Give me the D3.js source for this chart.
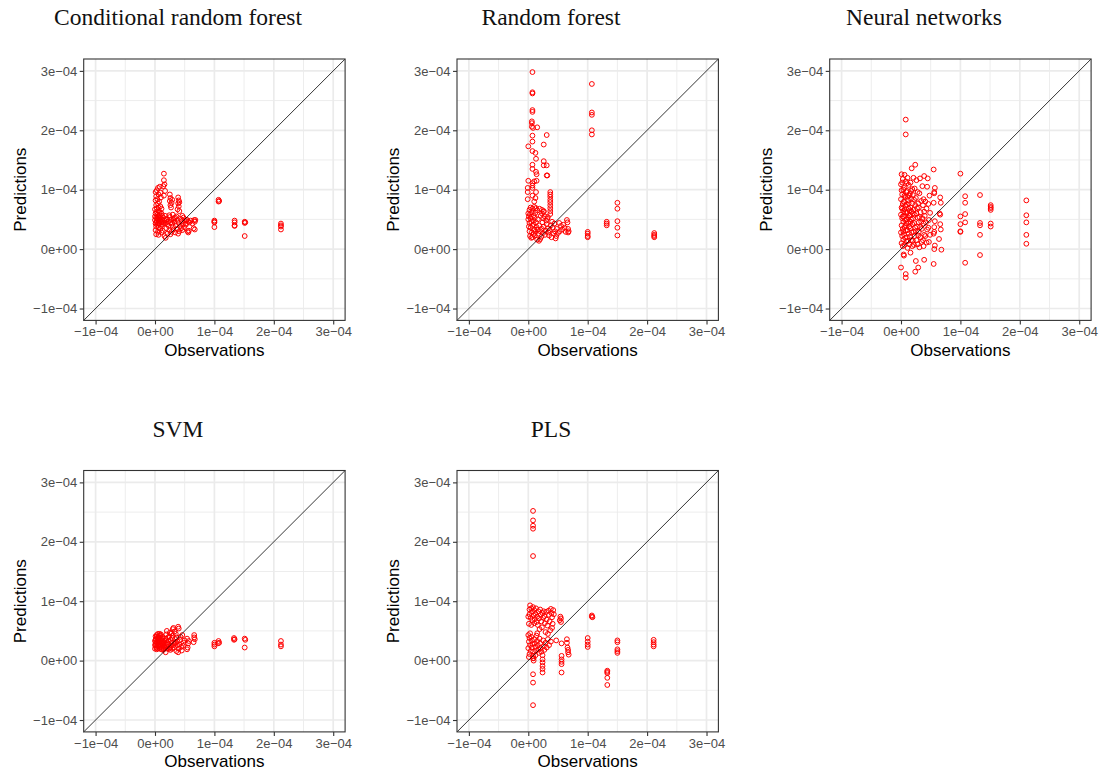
<!DOCTYPE html>
<html><head><meta charset="utf-8">
<script src="https://cdn.jsdelivr.net/npm/d3@7"></script>
<style>body{margin:0;background:#fff}</style>
</head><body>
<svg id="c" width="1102" height="774"></svg>
<script>
// values below are in units of 1e-5
const UNIT = 1e-5;
const axisDomain = [-1.2e-4, 3.2e-4];
const tickValues = [-1e-4, 0, 1e-4, 2e-4, 3e-4];
const tickLabels = ["\u22121e\u221204", "0e+00", "1e\u221204", "2e\u221204", "3e\u221204"];
const minorValues = [-0.5e-4, 0.5e-4, 1.5e-4, 2.5e-4];
const modelTitles = ["Conditional random forest", "Random forest", "Neural networks", "SVM", "PLS"];
const xTitle = "Observations";
const yTitle = "Predictions";

// [observation, prediction]
const crf = [
[10.0,4.8],[10.0,4.5],[10.0,3.7],[10.0,4.6],
[10.7,8.3],[10.8,8.1],[10.7,8.0],
[13.4,4.8],[13.4,4.5],[13.4,3.9],[13.4,4.0],
[15.1,4.6],[15.2,4.5],[15.1,4.4],[15.1,2.2],
[21.2,4.3],[21.2,3.8],[21.2,3.3],[21.2,4.0],
[5.5,3.0],[5.6,2.8],[5.7,3.1],[5.8,4.5],[6.0,4.8],[6.6,4.9],[6.7,4.6],[6.8,4.9],[6.5,3.5],[6.7,3.3],[6.3,4.3],[5.6,4.6],[5.4,4.9],[5.2,4.3],
[0.1,9.6],[0.3,9.9],[0.5,10.3],[0.8,10.5],[0.2,8.9],[0.6,9.2],[0.9,9.5],[0.1,8.2],[0.4,8.4],[0.7,8.0],[1.0,8.7],[0.2,7.4],[0.5,7.7],[0.9,7.2],[0.0,6.7],[0.3,6.9],[0.7,6.4],[1.1,6.8],[0.1,6.0],[0.4,5.8],[0.8,6.1],[0.2,5.3],[0.5,5.5],[0.9,5.2],[1.2,5.6],[0.0,4.9],[0.3,4.7],[0.6,5.0],[1.0,4.6],[0.1,4.3],[0.4,4.1],[0.8,4.4],[1.3,4.2],[0.2,3.8],[0.6,3.6],[1.0,3.9],[0.1,3.2],[0.5,2.9],[0.9,3.4],[0.2,2.5],[0.6,2.4],[1.1,2.8],[1.8,1.9],[1.6,2.2],
[1.5,12.7],[1.5,11.6],[1.6,10.9],[1.4,10.6],[1.7,9.8],[1.5,9.0],
[2.5,9.2],[2.6,8.6],[2.5,8.1],[2.8,7.8],[2.6,7.4],[2.9,8.3],[2.7,7.0],
[3.9,8.7],[4.0,8.2],[3.9,7.7],[4.1,7.9],[4.0,7.2],[3.8,6.7],[4.1,6.4],
[1.4,5.3],[1.6,4.8],[1.8,4.4],[2.0,5.1],[2.2,4.6],[2.3,3.9],[2.5,5.4],[2.7,4.9],[2.9,4.3],[3.0,3.8],[3.2,5.2],[3.3,4.6],[3.5,4.0],[3.6,5.5],[3.8,4.9],[4.0,4.4],[4.2,3.9],[4.3,5.1],[4.5,4.7],[4.7,4.2],[4.8,5.3],[5.0,4.8],[5.2,4.1],[1.9,3.5],[2.4,3.2],[2.8,2.9],[3.1,3.3],[3.4,2.8],[3.7,3.4],[4.1,3.0],[4.4,3.5],[4.6,3.2],[2.1,2.6],[2.6,2.5],[1.3,3.1],[3.9,2.6],[4.9,3.7],[5.3,4.9],[1.7,5.6],[2.4,5.7],[3.0,5.8],[4.6,5.6],
[0.0,5.5],[0.2,4.5],[0.4,5.1],[0.6,4.3],[0.7,5.3],[0.9,4.8],[1.1,5.0],[1.2,4.5],[1.5,4.4],[1.9,4.9],[2.1,4.2],[2.6,4.5],[3.1,4.9],[3.4,5.3],[0.3,6.3],[0.6,7.0],[0.8,5.7],[1.1,6.0]
];
const rf = [
[0.7,29.8],[0.7,26.4],[0.7,26.2],[0.7,23.4],[0.7,23.1],[0.6,21.5],[0.6,21.2],[0.6,20.6],[0.8,20.4],[1.5,20.5],[0.7,19.1],[3.1,19.2],[0.0,17.3],[2.6,17.6],[0.7,18.1],[0.7,16.5],[1.2,16.2],[1.3,15.2],[2.6,14.8],[2.6,14.1],[3.1,14.1],[0.7,14.2],[0.7,13.5],[1.3,13.0],[1.4,12.6],[3.1,12.4],[3.2,12.4],[0.0,11.5],[1.4,11.5],[0.7,11.1],[1.0,11.4],[-0.1,10.3],[-0.1,9.6],[0.7,10.7],[0.7,10.3],[1.3,9.6],[1.2,8.6],[-0.1,8.4],[0.7,9.0],[1.0,8.0],
[3.7,9.6],[3.7,9.2],[3.7,8.8],[3.7,8.3],[3.7,7.9],[3.7,7.4],[3.7,6.9],[3.7,6.4],[3.7,5.9],[2.3,6.6],[2.6,6.3],
[6.5,4.9],[6.6,4.5],[6.7,3.4],[6.8,3.0],[6.7,2.8],
[10.0,2.9],[10.0,2.6],[10.0,2.2],[10.0,2.0],
[10.7,27.8],[10.7,23.0],[10.7,22.6],[10.7,20.0],[10.7,19.3],
[13.2,4.6],[13.2,4.3],[13.2,4.0],
[15.0,7.8],[15.0,6.8],[15.0,4.7],[15.0,3.6],[15.0,2.3],
[21.2,2.7],[21.2,2.4],[21.2,2.2],[21.2,2.0],
[0.0,6.0],[0.2,6.6],[0.4,7.0],[0.7,6.8],[1.0,7.1],[1.3,6.9],[0.1,5.5],[0.3,5.9],[0.6,6.2],[0.9,5.7],[1.2,6.1],[1.5,6.5],[0.0,5.0],[0.4,5.2],[0.8,4.8],[1.1,5.3],[1.6,5.0],[0.2,4.4],[0.5,4.6],[0.9,4.2],[1.3,4.5],[0.1,3.8],[0.4,3.6],[0.7,3.9],[1.0,3.3],[1.4,3.7],[0.2,3.0],[0.6,2.8],[0.9,2.5],[1.2,2.9],[0.3,2.2],[0.7,2.0],[1.1,2.3],[0.5,1.9],[1.5,1.6],[1.8,1.4],[2.0,1.7],[2.2,2.1],[1.7,2.6],[2.0,3.0],[2.3,3.4],[2.5,2.7],[2.8,2.4],[2.6,3.8],[2.9,3.1],[3.1,4.2],[3.3,3.5],[3.0,4.8],[3.4,2.8],[3.6,3.2],[3.8,4.0],[3.5,2.3],[3.9,2.0],[4.1,3.6],[4.3,2.6],[4.5,3.0],[4.6,1.8],[4.7,2.2],[4.8,3.4],[5.0,2.7],[5.3,3.0],[5.5,3.9],[5.7,3.3],[5.9,4.1],[6.1,3.6],[6.3,2.9],[2.3,6.0],[2.6,6.4],[2.1,5.6],[2.5,5.2],[2.8,5.5],[3.2,5.1],[1.9,6.8],[1.8,4.0],[2.4,4.5],[1.6,3.3],[4.0,4.6],[3.3,5.4],[4.4,4.3],[5.2,4.4]
];
const nn = [
[0.8,21.8],[0.8,19.3],[0.0,-3.1],[0.8,-4.2],[0.8,-4.8],
[10.0,12.7],[10.0,5.5],[10.0,4.2],[10.0,3.0],[10.0,2.9],
[10.8,8.9],[10.8,7.8],[10.8,5.9],[10.8,4.5],[10.8,-2.3],
[13.3,9.1],[13.3,4.4],[13.3,4.0],[13.3,2.4],[13.3,-1.0],
[15.1,7.4],[15.1,7.1],[15.1,6.9],[15.1,6.6],[15.1,4.3],[15.1,3.8],
[21.1,8.2],[21.1,5.7],[21.1,4.5],[21.1,2.4],[21.1,0.9],
[5.5,13.4],[5.7,10.3],[5.6,9.6],[5.6,9.4],[5.5,7.8],[5.7,4.7],[5.6,3.7],[5.6,2.9],[5.5,2.6],[5.7,0.6],[5.6,0.0],[5.5,-2.5],[6.6,8.7],[6.7,7.8],[6.5,6.0],[6.6,4.2],[6.7,3.3],[6.4,1.7],[6.8,-0.1],[6.6,5.8],
[0.1,12.6],[0.3,11.8],[0.0,10.9],[0.4,10.0],[0.2,9.2],[0.0,8.4],[0.3,7.6],[0.1,7.0],[0.4,6.4],[0.0,5.8],[0.2,5.2],[0.4,4.6],[0.1,4.0],[0.3,3.4],[0.0,2.8],[0.2,2.2],[0.4,1.6],[0.1,1.0],[0.3,0.5],
[0.6,12.5],[0.8,11.4],[0.5,10.3],[0.9,9.6],[0.7,8.8],[0.5,8.0],[0.8,7.3],[0.6,6.7],[0.9,6.1],[0.5,5.5],[0.7,4.9],[0.9,4.3],[0.6,3.7],[0.8,3.1],[0.5,2.5],[0.7,1.9],[0.9,1.3],[0.6,0.7],[0.45,-0.9],[0.5,-1.1],
[1.1,12.0],[1.3,10.8],[1.0,9.8],[1.4,9.0],[1.2,8.2],[1.0,7.5],[1.3,6.8],[1.1,6.2],[1.4,5.6],[1.0,5.0],[1.2,4.4],[1.4,3.8],[1.1,3.2],[1.3,2.6],[1.0,2.0],[1.2,1.4],[1.4,0.8],[1.1,0.2],
[1.8,13.6],[1.6,11.2],[1.9,10.1],[1.5,9.3],[1.7,8.5],[1.9,7.7],[1.6,7.0],[1.8,6.3],[1.5,5.7],[1.7,5.0],[1.9,4.2],[1.6,3.5],[1.8,2.8],[1.5,2.1],[1.7,1.5],[1.9,0.5],[1.6,-0.6],
[2.4,14.2],[2.1,12.0],[2.3,10.2],[2.0,9.1],[2.2,8.3],[2.4,7.4],[2.1,6.6],[2.3,5.8],[2.0,5.1],[2.2,4.4],[2.4,3.6],[2.1,2.9],[2.3,2.2],[2.0,1.4],[2.2,0.7],[2.5,-2.0],[2.4,-3.8],
[2.6,11.6],[2.8,9.6],[2.5,8.6],[2.9,7.7],[2.7,6.9],[2.6,6.0],[2.8,5.3],[3.0,4.5],[2.7,3.8],[2.5,3.0],[2.9,2.3],[2.6,1.5],[2.8,0.8],[2.9,-3.1],
[3.2,11.9],[3.1,9.4],[3.4,8.1],[3.0,7.0],[3.3,6.2],[3.1,5.4],[3.4,4.6],[3.2,3.7],[3.0,2.9],[3.3,2.0],[3.5,1.2],[3.1,0.3],
[3.9,12.3],[3.6,10.6],[3.8,8.4],[3.7,7.4],[3.9,6.3],[3.6,5.2],[3.8,4.3],[3.5,3.4],[3.9,2.4],[3.7,1.5],[3.8,0.5],[3.9,-1.8],
[4.5,11.9],[4.4,10.5],[4.1,8.0],[4.3,6.8],[4.0,5.6],[4.2,4.5],[4.4,3.3],[4.1,2.2],[4.3,1.1],
[4.8,9.0],[4.6,7.6],[4.9,6.1],[4.7,4.9],[4.6,3.6],[4.9,2.4],[4.7,1.2],
[0.2,6.8],[0.5,7.9],[0.9,5.0],[1.3,7.7],[0.3,5.5],[0.7,6.2],[1.1,8.8],[1.5,6.5],[0.1,9.9],[0.6,9.0],[1.7,9.8],[2.0,6.0],[0.4,3.0],[0.8,4.0],[1.2,5.3],[1.6,4.6],[0.2,11.2],[1.0,11.1]
];
const svm = [
[10.0,3.0],[10.0,2.7],[10.0,2.4],[10.7,3.3],[10.8,3.0],[10.6,2.9],
[13.3,3.8],[13.4,3.6],[13.3,3.5],[15.1,3.7],[15.2,3.5],[15.1,2.2],
[21.2,3.3],[21.2,2.7],[21.2,2.4],
[0.0,2.0],[0.2,2.5],[0.4,3.0],[0.1,3.5],[0.3,4.0],[0.5,4.5],[0.2,2.2],[0.6,2.7],[0.8,3.2],[0.7,3.8],[0.9,4.2],[1.0,2.3],[1.2,2.9],[1.1,3.5],[1.3,4.0],[1.4,1.8],[1.6,2.4],[1.5,3.1],[1.7,3.7],[1.8,1.4],[1.9,4.4],[2.0,5.0],[2.1,2.0],[2.2,2.7],[2.3,3.3],[2.4,4.1],[2.5,4.7],[2.6,1.8],[2.7,2.5],[2.8,3.0],[2.9,3.8],[3.0,5.3],[3.1,5.5],[3.2,2.2],[3.3,2.9],[3.4,3.6],[3.5,4.5],[3.6,1.6],[3.7,2.6],[3.8,3.2],[3.9,5.7],[4.0,5.4],[3.9,1.4],[4.0,2.0],[4.1,2.7],[4.2,3.5],[4.4,2.3],[4.6,4.3],[4.8,3.0],[4.7,2.5],[5.0,3.4],[5.4,3.7],[5.5,2.2],[5.4,1.9],[5.6,2.9],[5.7,3.3],[6.6,4.3],[6.6,3.9],[6.5,3.1],[6.7,3.6],[0.1,2.8],[0.4,2.1],[0.6,3.5],[0.8,2.0],[1.0,4.4],[1.2,2.2],[1.4,2.6],[1.6,3.3],[0.3,4.3],[0.2,3.1],[2.0,2.4],[2.4,2.0],[2.6,3.5],[3.0,4.2],[3.3,4.9],[2.8,4.6],[2.2,3.9],[4.3,4.0],[4.5,1.7],[3.6,3.9],
[0.0,2.6],[0.1,4.1],[0.3,1.9],[0.5,2.4],[0.7,3.0],[0.9,2.6],[1.1,1.9],[1.3,3.3],[0.4,3.7],[0.6,4.0],[0.0,3.3],[0.8,4.5],[1.5,2.0],[1.8,2.9],
[0.2,3.6],[0.5,3.3],[0.7,2.3],[1.0,3.0],[1.2,3.8],[1.7,2.2],[2.1,3.0],[2.5,2.2],[3.1,2.6],[3.5,3.0],[2.9,2.0],[1.9,3.4]
];
const pls = [
[0.8,25.2],[0.8,23.6],[0.8,22.7],[0.8,22.2],[0.8,17.6],
[10.0,3.8],[10.0,3.2],[10.0,2.7],[10.0,2.3],[10.7,7.6],[10.8,7.3],[10.7,7.4],
[13.3,-1.7],[13.3,-1.9],[13.3,-2.1],[13.3,-2.9],[13.3,-4.1],
[15.0,3.4],[15.0,3.1],[15.0,1.9],[15.0,1.6],[15.0,1.3],
[21.1,3.5],[21.1,3.1],[21.1,2.7],[21.1,2.4],
[0.8,0.4],[0.8,-2.3],[0.8,-3.7],[0.8,-7.5],
[2.4,0.2],[2.4,-0.3],[2.4,-0.9],[2.4,-1.4],[2.4,-2.0],
[5.6,0.8],[5.6,0.2],[5.6,-0.2],[5.6,-0.6],[5.6,-2.0],
[6.5,3.6],[6.5,3.0],[6.7,1.8],[6.7,1.4],[6.8,1.0],[6.6,2.2],
[0.0,7.4],[0.2,7.8],[0.3,9.3],[0.5,8.8],[0.4,7.2],[0.6,8.2],[0.8,9.0],[0.9,7.6],[0.7,6.8],[1.0,8.5],[1.2,7.9],[1.1,7.0],[1.3,8.8],[1.5,7.4],[1.4,6.5],[1.7,8.3],[1.8,7.1],[1.6,6.0],[2.0,8.6],[2.1,7.7],[2.2,6.6],[2.4,8.0],[2.5,7.2],[2.3,5.6],[2.7,7.5],[2.8,6.3],[3.0,8.2],[3.1,6.9],[3.2,5.9],[3.4,8.4],[3.5,7.7],[3.6,6.6],[3.8,8.7],[3.9,8.0],[4.0,7.3],[4.1,6.2],[4.2,8.5],[4.0,5.5],[4.3,7.8],[3.7,5.1],[5.4,7.4],[5.5,7.1],[5.3,6.8],[5.5,6.5],[0.1,6.2],[0.5,6.0],[1.9,5.3],[2.9,4.8],[3.3,4.5],[0.2,8.6],[1.0,6.3],[2.6,8.3],
[0.0,4.3],[0.2,3.8],[0.1,3.2],[0.3,2.6],[0.0,2.1],[0.4,1.6],[0.2,1.1],[0.5,4.0],[0.6,3.4],[0.7,2.8],[0.6,2.2],[0.8,1.5],[0.8,0.8],[0.9,0.4],[1.0,3.6],[1.1,2.9],[1.2,2.3],[1.3,1.7],[1.4,4.2],[1.5,3.3],[1.6,2.6],[1.7,1.9],[1.8,1.3],[1.9,3.7],[2.0,2.9],[2.1,2.1],[2.2,1.5],[2.4,0.9],[2.5,3.4],[2.6,2.4],[2.7,1.8],[2.9,3.0],[3.1,2.2],[3.3,3.6],[3.5,2.6],[3.8,3.2],[4.7,3.4],[5.6,2.9],[0.3,4.6],[0.1,0.6],[1.2,0.9],[0.9,0.0],[1.5,4.6]
];
const seriesList = [crf, rf, nn, svm, pls];

const svg = d3.select("#c");
const SIZE = 261.4;
const panels = [
  {left: 83.7, top: 59, titleX: 178},
  {left: 457.0, top: 59, titleX: 551},
  {left: 829.7, top: 59, titleX: 924},
  {left: 83.7, top: 470.5, titleX: 178},
  {left: 457.0, top: 470.5, titleX: 551}
];

panels.forEach((p, i) => {
  const data = seriesList[i];
  const x = d3.scaleLinear().domain(axisDomain).range([0, SIZE]);
  const y = d3.scaleLinear().domain(axisDomain).range([SIZE, 0]);
  const g = svg.append("g").attr("transform", `translate(${p.left},${p.top})`);

  g.append("rect").attr("width", SIZE).attr("height", SIZE).attr("fill", "#fff");
  g.selectAll(".mnx").data(minorValues).enter().append("line")
    .attr("x1", d => x(d)).attr("x2", d => x(d)).attr("y1", 0).attr("y2", SIZE)
    .attr("stroke", "#ebebeb").attr("stroke-width", 0.9);
  g.selectAll(".mny").data(minorValues).enter().append("line")
    .attr("y1", d => y(d)).attr("y2", d => y(d)).attr("x1", 0).attr("x2", SIZE)
    .attr("stroke", "#ebebeb").attr("stroke-width", 0.9);
  g.selectAll(".mjx").data(tickValues).enter().append("line")
    .attr("x1", d => x(d)).attr("x2", d => x(d)).attr("y1", 0).attr("y2", SIZE)
    .attr("stroke", "#ebebeb").attr("stroke-width", 1.7);
  g.selectAll(".mjy").data(tickValues).enter().append("line")
    .attr("y1", d => y(d)).attr("y2", d => y(d)).attr("x1", 0).attr("x2", SIZE)
    .attr("stroke", "#ebebeb").attr("stroke-width", 1.7);

  g.selectAll("circle").data(data).enter().append("circle")
    .attr("cx", d => x(d[0] * UNIT)).attr("cy", d => y(d[1] * UNIT))
    .attr("r", 2.4).attr("fill", "none").attr("stroke", "#ff0000").attr("stroke-width", 1.0);

  g.append("line")
    .attr("x1", x(axisDomain[0])).attr("y1", y(axisDomain[0]))
    .attr("x2", x(axisDomain[1])).attr("y2", y(axisDomain[1]))
    .attr("stroke", "#000").attr("stroke-width", 0.8);

  g.append("rect").attr("width", SIZE).attr("height", SIZE)
    .attr("fill", "none").attr("stroke", "#333").attr("stroke-width", 1.1);

  const ax = g.append("g").attr("transform", `translate(0,${SIZE})`)
    .call(d3.axisBottom(x).tickValues(tickValues).tickFormat((d, k) => tickLabels[k]).tickSize(4).tickPadding(2.5));
  const ay = g.append("g")
    .call(d3.axisLeft(y).tickValues(tickValues).tickFormat((d, k) => tickLabels[k]).tickSize(4).tickPadding(2.5));
  [ax, ay].forEach(a => {
    a.select(".domain").remove();
    a.selectAll(".tick line").attr("stroke", "#333").attr("stroke-width", 1.1);
    a.selectAll(".tick text").attr("fill", "#4d4d4d")
      .style("font-family", "'Liberation Sans', Arial, sans-serif").style("font-size", "13px");
  });

  g.append("text").attr("x", SIZE / 2).attr("y", SIZE + 35.5)
    .attr("text-anchor", "middle").attr("fill", "#000")
    .style("font-family", "'Liberation Sans', Arial, sans-serif").style("font-size", "17px")
    .text(xTitle);
  g.append("text").attr("transform", `translate(-57.7,${SIZE / 2}) rotate(-90)`)
    .attr("text-anchor", "middle").attr("fill", "#000")
    .style("font-family", "'Liberation Sans', Arial, sans-serif").style("font-size", "17px")
    .text(yTitle);

  svg.append("text").attr("x", p.titleX).attr("y", p.top - 34)
    .attr("text-anchor", "middle").attr("fill", "#111")
    .style("font-family", "'Liberation Serif', 'Times New Roman', serif").style("font-size", "23.5px")
    .text(modelTitles[i]);
});
</script>
</body></html>
